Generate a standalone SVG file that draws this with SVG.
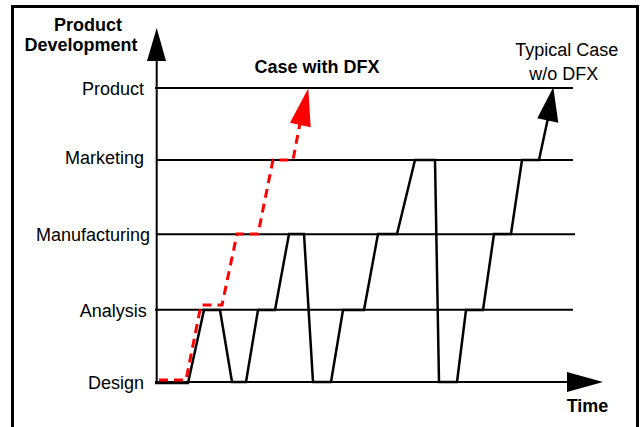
<svg xmlns="http://www.w3.org/2000/svg" width="642" height="427" viewBox="0 0 642 427">
<defs>
<style>
.lbl{font-family:"Liberation Sans",Arial,sans-serif;font-size:18px;fill:#000}
.b{font-weight:bold}
.grid{stroke:#000;stroke-width:2;fill:none}
</style>
</defs>
<rect width="642" height="427" fill="#fff"/>
<rect x="12.5" y="6.5" width="625" height="432" fill="none" stroke="#000" stroke-width="3"/>
<g id="axis-y">
<line class="grid" x1="156.7" y1="58" x2="156.7" y2="383" stroke-width="2.5"/>
<polygon points="156.7,28 147,61 166,61" fill="#000"/>
<text class="lbl b" x="88" y="30.5" text-anchor="middle">Product</text>
<text class="lbl b" x="81" y="50.5" text-anchor="middle">Development</text>
</g>
<g id="axis-x">
<line class="grid" x1="155" y1="382" x2="570" y2="382"/>
<polygon points="567,372 603,382 567,392" fill="#000"/>
<text class="lbl b" x="587.5" y="412" text-anchor="middle">Time</text>
</g>
<g id="level-product">
<line class="grid" x1="155" y1="88" x2="573" y2="88"/>
<text class="lbl" x="144" y="94.5" text-anchor="end">Product</text>
</g>
<g id="level-marketing">
<line class="grid" x1="157" y1="160" x2="573" y2="160"/>
<text class="lbl" x="144" y="163.5" text-anchor="end">Marketing</text>
</g>
<g id="level-manufacturing">
<line class="grid" x1="157" y1="234.3" x2="575" y2="234.3"/>
<text class="lbl" x="150" y="241" text-anchor="end">Manufacturing</text>
</g>
<g id="level-analysis">
<line class="grid" x1="155" y1="309.7" x2="573" y2="309.7"/>
<text class="lbl" x="146.7" y="316.5" text-anchor="end">Analysis</text>
</g>
<g id="level-design">
<text class="lbl" x="144" y="389" text-anchor="end">Design</text>
</g>
<g id="case-dfx">
<text class="lbl b" x="254.5" y="73">Case with DFX</text>
</g>
<g id="case-typical">
<text class="lbl" x="566.8" y="56" text-anchor="middle">Typical Case</text>
<text class="lbl" x="563.8" y="80" text-anchor="middle">w/o DFX</text>
</g>
<g id="connectors">
<polyline fill="none" stroke="#000" stroke-width="2.5" stroke-linejoin="miter" points="155,383 188,383 204,310 220,310 232,382 246,382 258,310 275,310 289,234 304,234 313,382 331,382 343,310 364,310 378,234 397,234 415,160 435,160 439,382 457,382 466,310 483,310 494,234 511,234 522,160 539,160 548,118"/>
<polygon points="553.3,87.3 537.3,118.3 558.3,122.7" fill="#000"/>
<polyline fill="none" stroke="#f00" stroke-width="3" stroke-dasharray="9,6" points="159,380 186,380 201,305 222,305 237,234 258,234 273,160 293,160 300,123"/>
<polygon points="308.3,88.3 290,122.7 310.7,127.3" fill="#f00"/>
</g>
</svg>
